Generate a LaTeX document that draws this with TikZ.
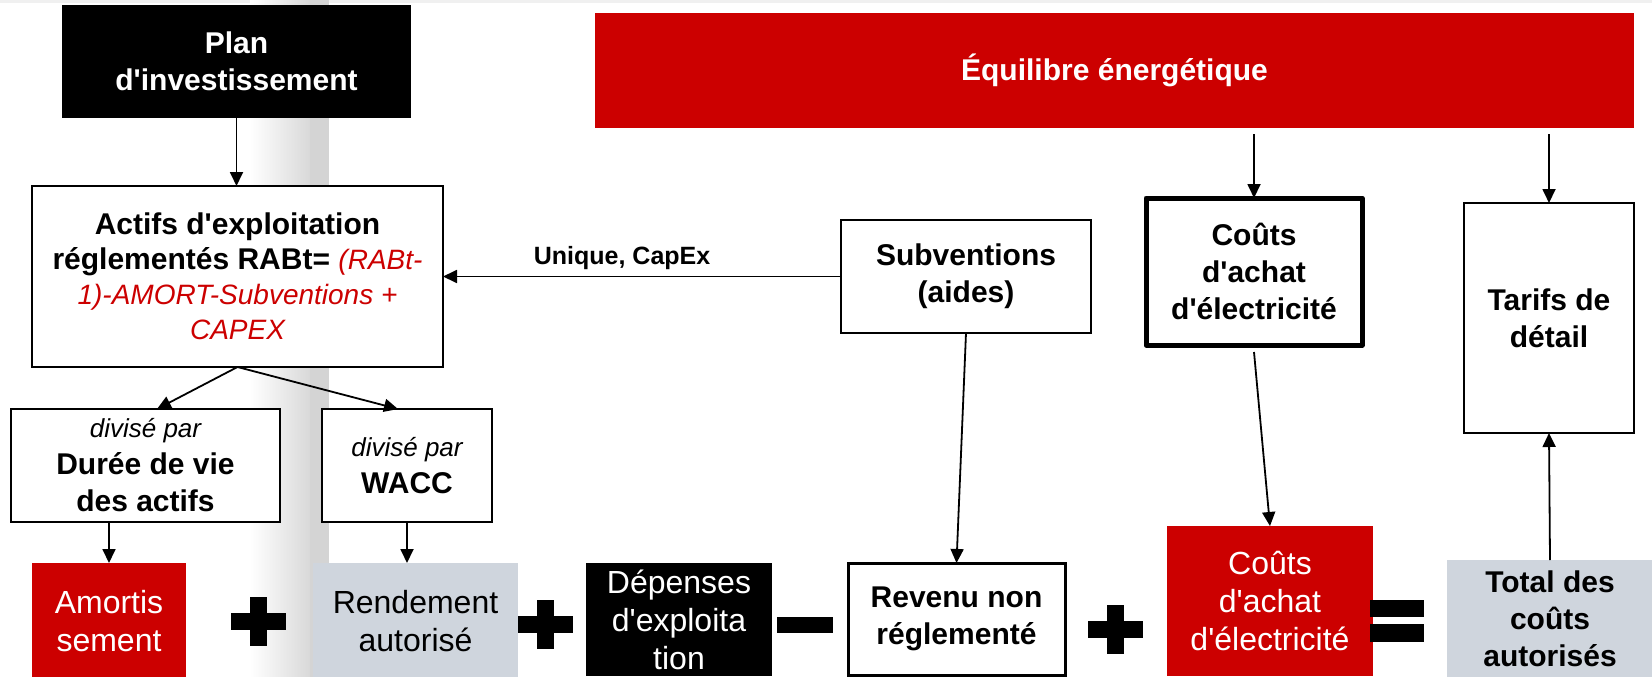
\documentclass[tikz,border=0pt]{standalone}
\usepackage{fontspec}
\setmainfont{Liberation Sans}[Ligatures=TeXOff]
\usetikzlibrary{arrows.meta,calc}
\definecolor{rougeE}{HTML}{CC0000}
\definecolor{grisB}{HTML}{CFD5DD}
\newcommand{\policeGras}{\fontsize{30}{37}\selectfont\bfseries}
\newcommand{\policeTexte}{\fontsize{32}{38}\selectfont}
\newcommand{\policeItal}{\fontsize{26}{30}\selectfont\mdseries\itshape}
\newcommand{\policeEtiq}{\fontsize{25}{30}\selectfont\bfseries}
\newcommand{\formule}[1]{{\color{rougeE}\fontsize{28}{35}\selectfont\mdseries\itshape #1}}
\tikzset{
    fleche/.style={-{Triangle[length=14pt,width=13pt]}, line width=1.8pt},
    boite/.style={draw=black, line width=2pt, fill=white, align=center, inner sep=0pt, outer sep=0pt, font=\policeGras},
    noire/.style={boite, draw=none, fill=black, text=white},
    rouge pleine/.style={boite, draw=none, fill=rougeE, text=white},
    grise/.style={boite, draw=none, fill=grisB},
    signe plus/.pic={\fill (-27.5,-8.5) rectangle (27.5,8.5); \fill (-8.5,-24.5) rectangle (8.5,24.5);},
    signe moins/.pic={\fill (-28,-8) rectangle (28,8);},
    signe egal/.pic={\fill (-27,-21) rectangle (27,-4); \fill (-27,3) rectangle (27,21);},
  }

\begin{document}
\begin{tikzpicture}[x=1pt,y=-1pt]
			%FOND
			\clip (0,0) rectangle (1652,677);
			\fill[gray!12] (0,0) rectangle (1652,3);
			\shade[left color=white, right color=gray!30] (250,0) rectangle (310,677);
			\fill[gray!34] (310,0) rectangle (329,677);

			%BOITES DU HAUT
			\node[noire, minimum width=349pt, minimum height=113pt] (plan) at (236.5,61.5) {Plan\\d'investissement};
			\node[rouge pleine, minimum width=1039pt, minimum height=115pt] (equilibre) at (1114.5,70.5) {Équilibre énergétique};

			%RAB, SUBVENTIONS, ACHAT, TARIFS
			\node[boite, font={\fontsize{30}{35}\selectfont\bfseries}, minimum width=411pt, minimum height=181pt] (actifs) at (237.5,276.5)
				{Actifs d'exploitation\\réglementés RABt= \formule{(RABt-}\\\formule{1)-AMORT-Subventions +}\\\formule{CAPEX}};
			\node[boite, minimum width=250pt, minimum height=113pt] (subv) at (966,276.5) {Subventions\\(aides)};
			\node[boite, line width=5pt, line join=round, minimum width=216pt, minimum height=147pt] (achat) at (1254,271.5) {Coûts\\d'achat\\d'électricité};
			\node[boite, minimum width=170pt, minimum height=230pt] (tarifs) at (1549,318) {Tarifs de\\détail};

			%DIVISE PAR
			\node[boite, minimum width=269pt, minimum height=113pt] (duree) at (145.5,465.5) {{\policeItal divisé par}\\Durée de vie\\des actifs};
			\node[boite, minimum width=170pt, minimum height=113pt] (wacc) at (407,465.5) {{\policeItal divisé par}\\WACC};

			%LIGNE DU BAS
			\node[rouge pleine, font=\policeTexte, minimum width=154pt, minimum height=117pt] (amort) at (109,621.5) {Amortis\\sement};
			\node[grise, font=\policeTexte, minimum width=205pt, minimum height=117pt] (rendement) at (415.5,621.5) {Rendement\\autorisé};
			\node[noire, font=\policeTexte, minimum width=186pt, minimum height=113pt] (depenses) at (679,619.5) {Dépenses\\d'exploita\\tion};
			\node[boite, line width=3pt, minimum width=217pt, minimum height=112pt] (revenu) at (956.5,619) {Revenu non\\réglementé};
			\node[rouge pleine, font=\policeTexte, minimum width=206pt, minimum height=150pt] (achatB) at (1270,601) {Coûts\\d'achat\\d'électricité};
			\node[grise, minimum width=206pt, minimum height=117pt] (total) at (1550,618.5) {Total des\\coûts\\autorisés};

			\pic at (258,621) {signe plus};
			\pic at (545,624) {signe plus};
			\pic at (805,625) {signe moins};
			\pic at (1115.5,629.5) {signe plus};
			\pic at (1397,621) {signe egal};

			%FLECHES
			\draw[fleche] (plan.south) -- (plan.south |- actifs.north);
			\draw[fleche] (subv.west) -- node[above=3pt, pos=0.55, font=\policeEtiq]{Unique, CapEx} (actifs.east);
			\draw[fleche] (actifs.south) -- ($(duree.north)+(11.5,0)$);
			\draw[fleche] (actifs.south) -- ($(wacc.north)+(-9,0)$);
			\draw[fleche] (amort.north |- duree.south) -- (amort.north);
			\draw[fleche] (wacc.south) -- (wacc.south |- rendement.north);
			\draw[fleche] (subv.south) -- (revenu.north);
			\draw[fleche] ($(equilibre.south -| achat.north)+(0,6)$) -- (achat.north);
			\draw[fleche] ($(equilibre.south -| tarifs.north)+(0,6)$) -- (tarifs.north);
			\draw[fleche] ($(achat.south)+(0,7)$) -- (achatB.north);
			\draw[fleche] (total.north) -- (tarifs.south);
\end{tikzpicture}
\end{document}
